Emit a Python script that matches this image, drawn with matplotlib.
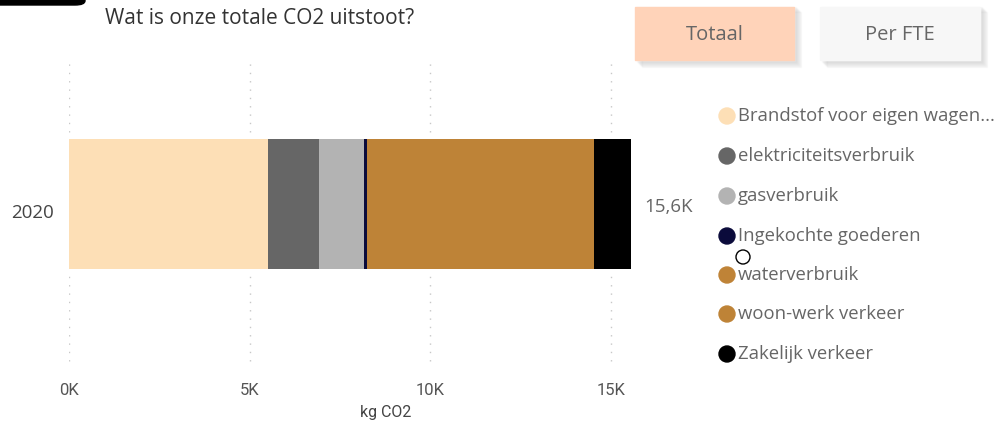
import numpy as np
import matplotlib
matplotlib.use('Agg')
import matplotlib.pyplot as plt
from matplotlib.patches import FancyBboxPatch, Ellipse, Rectangle
from matplotlib.transforms import ScaledTranslation

plt.rcParams['font.family'] = ['Open Sans', 'DejaVu Sans']

years = ['2020']
categories = ['Brandstof voor eigen wagen...', 'elektriciteitsverbruik', 'gasverbruik',
              'Ingekochte goederen', 'waterverbruik', 'woon-werk verkeer', 'Zakelijk verkeer']
values = [5.52, 1.40, 1.25, 0.08, 0.01, 6.27, 1.04]  # in K kg CO2
colors = ['#FDDFB6', '#666666', '#B3B3B3', '#0B0B3B', '#BF8337', '#BE8337', '#000000']
xticks = [0, 5, 10, 15]
xtick_labels = ['0K', '5K', '10K', '15K']
total_label = '15,6K'

W, H = 1004, 424
fig = plt.figure(figsize=(W / 100, H / 100), dpi=100)


def fx(x):
    return x / W


def fy(y):
    return 1 - y / H


# plot area in pixels
left, right, top, bottom = 69, 703, 58, 372
ax = fig.add_axes([fx(left), fy(bottom), fx(right - left), (bottom - top) / H])
xmax = 17.55
ax.set_xlim(0, xmax)
ax.set_ylim(-1.07, 0.93)

start = 0
for v, c in zip(values, colors):
    ax.barh(0, v, left=start, height=0.83, color=c, edgecolor='none')
    start += v
ax.text(start + 0.36, -0.02, total_label, va='center', ha='left', fontsize=13.5, color='#666666')

for t in xticks:
    ax.plot([t, t], [-1.0, -0.46], ls=(0, (1, 5)), color='#C8C8C8', lw=1, zorder=0)
    ax.plot([t, t], [0.46, 0.93], ls=(0, (1, 5)), color='#C8C8C8', lw=1, zorder=0)

ax.set_xticks(xticks)
ax.set_xticklabels(xtick_labels, fontsize=12, color='#555555', family=['Roboto', 'DejaVu Sans'])
ax.set_yticks([0])
ax.set_yticklabels(years, fontsize=13.5, color='#444444')
ax.tick_params(length=0, pad=8)
ax.tick_params(axis='y', pad=14)
for lab in ax.get_yticklabels():
    lab.set_transform(lab.get_transform() + ScaledTranslation(0.04, -0.07, fig.dpi_scale_trans))
for s in ax.spines.values():
    s.set_visible(False)
ax.set_xlabel('kg CO2', fontsize=11.5, color='#444444', family=['Roboto', 'DejaVu Sans'],
              labelpad=5)

# title
fig.text(fx(105), fy(18), 'Wat is onze totale CO2 uitstoot?', fontsize=15, color='#333333',
         va='center', ha='left')

# black tab top-left
fig.patches.append(FancyBboxPatch((fx(-20), fy(5)), fx(105), fy(0) - fy(5) + 0.05,
                                  boxstyle='round,pad=0,rounding_size=0.01',
                                  transform=fig.transFigure, color='black', zorder=5))

# buttons
for (x0, x1, label, col) in [(635, 794, 'Totaal', '#FFD3B9'), (820, 980, 'Per FTE', '#F7F7F7')]:
    for k in range(6):
        fig.patches.append(Rectangle((fx(x0 + 2 + k), fy(62 + k)), fx(x1 - x0), 55 / H,
                                     transform=fig.transFigure, color='#000000', alpha=0.018,
                                     zorder=1))
    fig.patches.append(Rectangle((fx(x0), fy(60)), fx(x1 - x0), 53 / H,
                                 transform=fig.transFigure, color=col, zorder=2))
    fig.text(fx((x0 + x1) / 2), fy(35), label, fontsize=14.5, color='#666666',
             ha='center', va='center', zorder=3)

# legend
leg_y = [116, 156, 196, 236, 275, 314, 354]
for lab, c, y in zip(categories, colors, leg_y):
    fig.patches.append(Ellipse((fx(727), fy(y)), 16 / W, 16 / H, transform=fig.transFigure,
                               color=c, zorder=3))
    fig.text(fx(738), fy(y), lab, fontsize=13.3, color='#666666', ha='left', va='center')

# cursor circle
fig.patches.append(Ellipse((fx(743), fy(257)), 14 / W, 14 / H, transform=fig.transFigure,
                           facecolor='white', edgecolor='black', lw=1, zorder=4))

fig.savefig('out.png', dpi=100)
